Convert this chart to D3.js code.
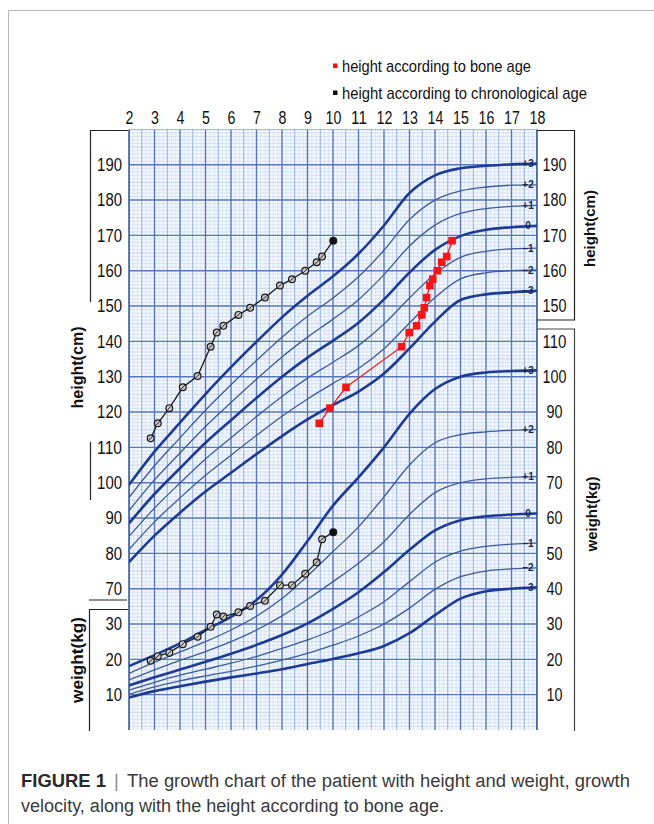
<!DOCTYPE html>
<html><head><meta charset="utf-8">
<script src="https://cdn.jsdelivr.net/npm/d3@7"></script>
<style>
html,body{margin:0;padding:0;background:#fff;}
svg{display:block;}
</style></head>
<body>
<svg id="c" width="654" height="824"></svg>
<script>
// ---------- DATA ----------
const curveAges = [2,3,4,5,6,7,8,9,10,11,12,13,14,15,16,17,18];
const ageTicks = [2,3,4,5,6,7,8,9,10,11,12,13,14,15,16,17,18];

// height reference curves (cm), SD lines
const heightM3 = [77.5,85.0,91.5,97.5,102.8,108.1,113.2,117.9,122.0,125.8,130.9,138.0,145.6,151.7,153.3,153.9,154.3];
const heightM2 = [81.1,88.9,95.7,102.1,107.8,113.4,118.8,123.7,128.1,132.3,137.9,145.2,152.4,157.7,159.4,160.0,160.2];
const heightM1 = [84.8,92.8,99.9,106.7,112.7,118.7,124.4,129.6,134.1,138.8,144.9,152.3,159.1,163.8,165.5,166.2,166.4];
const heightP0 = [88.5,96.8,104.1,111.3,117.7,124.0,130.0,135.4,140.2,145.3,151.9,159.5,165.9,169.8,171.6,172.3,172.7];
const heightP1 = [92.1,100.8,108.4,115.9,122.7,129.3,135.6,141.2,146.3,151.8,158.9,167.0,172.9,176.2,177.6,178.2,178.5];
const heightP2 = [95.8,104.8,112.7,120.5,127.7,134.6,141.2,147.1,152.3,158.3,165.8,174.5,180.0,182.6,183.7,184.2,184.3];
const heightP3 = [99.4,108.8,117.0,125.1,132.7,139.9,146.8,152.9,158.4,164.8,172.8,182.0,187.0,189.0,189.7,190.1,190.3];

// weight reference curves (kg), SD lines
const weightM3 = [9.2,11.0,12.4,13.7,14.9,16.0,17.2,18.7,20.1,21.7,23.8,27.4,32.5,37.2,39.3,40.0,40.4];
const weightM2 = [10.1,12.2,13.9,15.3,16.6,18.1,19.8,21.7,24.0,26.6,30.0,34.5,39.8,43.4,45.0,45.6,45.9];
const weightM1 = [11.3,13.5,15.5,17.2,18.9,20.8,23.1,25.5,28.3,32.0,36.3,42.0,47.5,50.6,52.0,52.6,52.9];
const weightP0 = [12.6,14.9,17.1,19.3,21.6,24.1,26.9,30.2,34.3,39.0,44.7,51.0,56.5,59.4,60.5,61.0,61.3];
const weightP1 = [14.2,17.0,19.7,22.2,25.0,28.3,32.3,37.0,42.0,47.2,53.3,61.0,67.2,70.0,71.1,71.5,71.7];
const weightP2 = [16.0,19.2,22.1,25.0,28.3,32.2,37.2,43.6,50.5,57.5,66.0,75.0,81.3,83.6,84.4,84.8,85.0];
const weightP3 = [18.1,21.2,24.5,28.3,32.0,36.8,44.0,53.5,63.5,71.5,80.0,89.5,96.5,100.0,101.2,101.6,101.8];

const sdLabels = ["\u20133","\u20132","\u20131","0","+1","+2","+3"];

// patient
const chronoAges   = [2.85,3.13,3.58,4.11,4.69,5.20,5.44,5.70,6.29,6.75,7.33,7.92,8.39,8.91,9.36,9.57,10.01];
const chronoHeight = [112.6,116.8,121.1,127.0,130.2,138.5,142.5,144.4,147.5,149.5,152.4,155.8,157.6,160.0,162.4,164.0,168.5];
const chronoWeight = [19.6,20.9,21.9,24.3,26.4,29.2,32.7,32.1,33.3,35.1,36.6,41.0,41.0,44.2,47.5,54.0,56.0];
const boneAges   = [9.46,9.88,10.51,12.69,12.99,13.28,13.48,13.58,13.67,13.80,13.91,14.09,14.26,14.46,14.67];
const boneHeight = [116.8,121.1,127.0,138.5,142.5,144.4,147.5,149.5,152.4,155.8,157.6,160.0,162.4,164.0,168.5];

const heightTicksLeft = [70,80,90,100,110,120,130,140,150,160,170,180,190];
const weightTicksLeft = [10,20,30];
const heightTicksRight = [150,160,170,180,190];
const weightTicksRight = [10,20,30,40,50,60,70,80,90,100,110];

const legendItems = ["height according to bone age","height according to chronological age"];

// ---------- CHART ----------
const svg = d3.select("#c");
const NARROW = "'Liberation Sans Narrow','Arial Narrow','Liberation Sans',Arial,sans-serif";
const SANS = "'Liberation Sans',Arial,sans-serif";

const x = d3.scaleLinear().domain([2,18]).range([129,537]);
const yH = d3.scaleLinear().domain([30,200]).range([730,129.4]);
const yW = d3.scaleLinear().domain([0,170]).range([730,129.4]);

// outer figure frame
svg.append("path").attr("d","M8.5,824 V10.5 H654").attr("fill","none").attr("stroke","#b5b5b5").attr("stroke-width",1);

// clip
svg.append("clipPath").attr("id","plotclip").append("rect")
  .attr("x",x(2)).attr("y",yH(200)).attr("width",x(18)-x(2)).attr("height",yH(30)-yH(200));

const grid = svg.append("g").attr("clip-path","url(#plotclip)");
grid.append("rect").attr("x",x(2)).attr("y",yH(200)).attr("width",x(18)-x(2)).attr("height",yH(30)-yH(200)).attr("fill","#f3f7fd");

// minor verticals (2 months)
const minorV = d3.range(2, 18.001, 1/6).filter(a => Math.abs(a*2-Math.round(a*2))>0.01);
grid.selectAll(".mv").data(minorV).join("line")
  .attr("x1",d=>x(d)).attr("x2",d=>x(d)).attr("y1",yH(200)).attr("y2",yH(30))
  .attr("stroke","#d5e3f4").attr("stroke-width",0.8);
// minor horizontals (1 unit)
const minorH = d3.range(30,201,1).filter(v=>v%10!==0);
grid.selectAll(".mh").data(minorH).join("line")
  .attr("x1",x(2)).attr("x2",x(18)).attr("y1",d=>yH(d)).attr("y2",d=>yH(d))
  .attr("stroke",d=>d%5===0?"#bccfeb":"#d0def1").attr("stroke-width",0.8);
// half years
const halfV = d3.range(2.5,18,1);
grid.selectAll(".hv").data(halfV).join("line")
  .attr("x1",d=>x(d)).attr("x2",d=>x(d)).attr("y1",yH(200)).attr("y2",yH(30))
  .attr("stroke","#93b0e0").attr("stroke-width",1);
// years
grid.selectAll(".yv").data(ageTicks).join("line")
  .attr("x1",d=>x(d)).attr("x2",d=>x(d)).attr("y1",yH(200)).attr("y2",yH(30))
  .attr("stroke","#5677bb").attr("stroke-width",1.4);
// major horizontals
const majorH = d3.range(40,201,10);
grid.selectAll(".Mh").data(majorH).join("line")
  .attr("x1",x(2)).attr("x2",x(18)).attr("y1",d=>yH(d)).attr("y2",d=>yH(d))
  .attr("stroke","#5677bb").attr("stroke-width",1.4);
// plot side edges
svg.append("line").attr("x1",x(2)).attr("x2",x(2)).attr("y1",yH(200)).attr("y2",yH(30)).attr("stroke","#3d5fa8").attr("stroke-width",1.6);
svg.append("line").attr("x1",x(18)).attr("x2",x(18)).attr("y1",yH(200)).attr("y2",yH(30)).attr("stroke","#3d5fa8").attr("stroke-width",1.6);

// reference curves
const heightCurves = [heightM3,heightM2,heightM1,heightP0,heightP1,heightP2,heightP3];
const weightCurves = [weightM3,weightM2,weightM1,weightP0,weightP1,weightP2,weightP3];
const thickIdx = [0,3,6];
const lineH = d3.line().x((d,i)=>x(curveAges[i])).y(d=>yH(d)).curve(d3.curveMonotoneX);
const lineW = d3.line().x((d,i)=>x(curveAges[i])).y(d=>yW(d)).curve(d3.curveMonotoneX);
const cg = svg.append("g").attr("clip-path","url(#plotclip)");
function drawCurves(curves, gen){
  curves.forEach((c,k)=>{
    const thick = thickIdx.includes(k);
    cg.append("path").attr("d",gen(c)).attr("fill","none")
      .attr("stroke", thick?"#1d3a95":"#3d5a9c")
      .attr("stroke-width", thick?2.6:1.3);
  });
}
drawCurves(weightCurves, lineW);
drawCurves(heightCurves, lineH);

// curve labels
const lab = svg.append("g").attr("font-family",SANS).attr("font-size",10).attr("font-weight","bold").attr("fill","#1a2850").attr("text-anchor","middle");
heightCurves.forEach((c,k)=>{
  lab.append("text").attr("x",x(17.65)).attr("y",yH(c[c.length-1])).attr("dy","0.35em").text(sdLabels[k]);
});
weightCurves.forEach((c,k)=>{
  lab.append("text").attr("x",x(17.65)).attr("y",yW(c[c.length-1])).attr("dy","0.35em").text(sdLabels[k]);
});

// patient: chronological weight & height
const pg = svg.append("g");
const pline = d3.line().x(d=>x(d[0])).y(d=>d[1]);
const cw = chronoAges.map((a,i)=>[a, yW(chronoWeight[i])]);
const ch = chronoAges.map((a,i)=>[a, yH(chronoHeight[i])]);
[cw,ch].forEach(pts=>{
  pg.append("path").attr("d",pline(pts)).attr("fill","none").attr("stroke","#1a1a1a").attr("stroke-width",1.3);
  pts.forEach((p,i)=>{
    const last = i===pts.length-1;
    const cx = x(p[0]), cy = p[1];
    pg.append("circle").attr("cx",cx).attr("cy",cy).attr("r",3.4)
      .attr("fill",last?"#111":"#c4c4c4").attr("stroke","#1a1a1a").attr("stroke-width",1.2);
    if(!last) pg.append("line").attr("x1",cx-2.3).attr("y1",cy+2.3).attr("x2",cx+2.3).attr("y2",cy-2.3).attr("stroke","#1a1a1a").attr("stroke-width",0.9);
  });
});
// bone age
const bh = boneAges.map((a,i)=>[a, yH(boneHeight[i])]);
pg.append("path").attr("d",pline(bh)).attr("fill","none").attr("stroke","#f21c1c").attr("stroke-width",1.3);
pg.selectAll(".bsq").data(bh).join("rect")
  .attr("x",d=>x(d[0])-3.8).attr("y",d=>d[1]-3.8).attr("width",7.6).attr("height",7.6)
  .attr("fill","#f71414");

// ---------- AXES ----------
function styleAxis(g, size, perChar, anchor){
  g.select(".domain").remove();
  g.attr("font-family",NARROW).attr("font-size",size);
  g.selectAll(".tick text").attr("fill","#111")
    .attr("textLength",d=>String(d).length*perChar).attr("lengthAdjust","spacingAndGlyphs");
  if(anchor) g.selectAll(".tick text").attr("text-anchor",anchor).attr("x",0);
}
const gTop = svg.append("g").attr("transform","translate(0,123.5)")
  .call(d3.axisTop(x).tickValues(ageTicks).tickSize(0).tickPadding(0).tickFormat(d3.format("d")));
styleAxis(gTop,18,7.9);
gTop.selectAll(".tick text").attr("dy","0em");

const gLH = svg.append("g").attr("transform","translate(122,0)")
  .call(d3.axisLeft(yH).tickValues(heightTicksLeft).tickSize(0).tickPadding(0));
styleAxis(gLH,18,8.3);
const gLW = svg.append("g").attr("transform","translate(122,0)")
  .call(d3.axisLeft(yW).tickValues(weightTicksLeft).tickSize(0).tickPadding(0));
styleAxis(gLW,18,8.3);
const gRH = svg.append("g").attr("transform","translate(554.5,0)")
  .call(d3.axisRight(yH).tickValues(heightTicksRight).tickSize(0).tickPadding(0));
styleAxis(gRH,18,8.0,"middle");
const gRW = svg.append("g").attr("transform","translate(554.5,0)")
  .call(d3.axisRight(yW).tickValues(weightTicksRight).tickSize(0).tickPadding(0));
styleAxis(gRW,18,8.0,"middle");

// axis boxes
const box = svg.append("g").attr("fill","none").attr("stroke","#222").attr("stroke-width",1.2);
box.append("path").attr("d","M128,130.5 H90.5 V302 M90.5,442 V500 M89,600 H127");
box.append("path").attr("d","M128,609.5 H89.5 V731");
box.append("path").attr("d","M537,130.5 H574.5 V320 H537");
box.append("path").attr("d","M537,329 H574.5 V731").attr("stroke","#444");

// rotated axis titles
function vtitle(cx, cy, txt, len, size){
  svg.append("text").attr("transform",`translate(${cx},${cy}) rotate(-90)`)
    .attr("text-anchor","middle").attr("dy","0.35em")
    .attr("font-family",SANS).attr("font-weight","bold").attr("font-size",size).attr("fill","#111")
    .attr("textLength",len).attr("lengthAdjust","spacingAndGlyphs").text(txt);
}
vtitle(77,367.5,"height(cm)",82,16);
vtitle(77.5,660,"weight(kg)",86,16);
vtitle(590,228.5,"height(cm)",77,15);
vtitle(591.5,514,"weight(kg)",75,15);

// legend
const leg = svg.append("g").attr("font-family",NARROW).attr("font-size",17).attr("fill","#111");
const legColors = ["#f01010","#111"];
const legY = [66,93];
const legLen = [189,245];
legendItems.forEach((t,i)=>{
  leg.append("rect").attr("x",333).attr("y",legY[i]-2.5).attr("width",4.5).attr("height",4.5).attr("fill",legColors[i]);
  leg.append("text").attr("x",342).attr("y",legY[i]).attr("dy","0.35em")
    .attr("textLength",legLen[i]).attr("lengthAdjust","spacingAndGlyphs").text(t);
});

// caption
const cap = svg.append("g").attr("font-size",18).attr("fill","#3a3a3a").attr("font-family",SANS);
cap.append("text").attr("x",21).attr("y",787).attr("font-weight","bold").attr("fill","#2a2a2a")
  .attr("textLength",85).attr("lengthAdjust","spacingAndGlyphs").text("FIGURE 1");
cap.append("text").attr("x",114).attr("y",787).attr("fill","#888").text("|");
cap.append("text").attr("x",127).attr("y",787)
  .attr("textLength",503).attr("lengthAdjust","spacingAndGlyphs").text("The growth chart of the patient with height and weight, growth");
cap.append("text").attr("x",21).attr("y",812)
  .attr("textLength",423).attr("lengthAdjust","spacingAndGlyphs").text("velocity, along with the height according to bone age.");
</script>
</body></html>
